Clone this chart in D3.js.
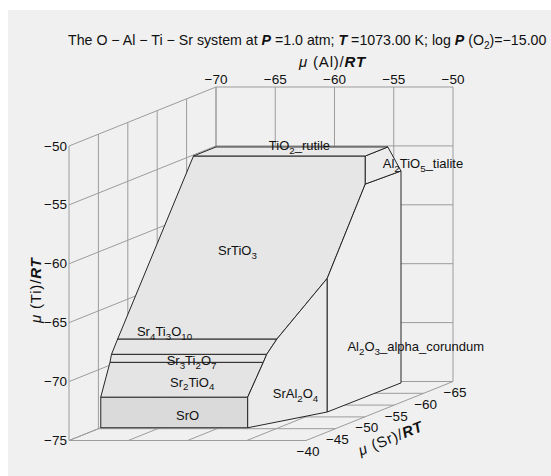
<!DOCTYPE html>
<html><head><meta charset="utf-8">
<script src="https://cdn.jsdelivr.net/npm/d3@7"></script>
<style>
body{margin:0;background:#fff}
svg{display:block}
text{font-family:"Liberation Sans",Arial,sans-serif;fill:#111}
</style>
</head><body>
<svg id="chart" width="551" height="476"></svg>
<script>
// ---------- data ----------
const alTicks = [-70, -65, -60, -55, -50];
const tiTicks = [-75, -70, -65, -60, -55, -50];
const srTicks = [-40, -45, -50, -55, -60, -65];

// polyhedron vertices in chemical-potential space: [mu(Al)/RT, mu(Sr)/RT, mu(Ti)/RT]
const vertexNames = ["A1","A2","A3","A4","B1","B2","C1","C2","D1","D2","P8","T1","T3","T4","T5","G1","G2","F1","E1"];
const vertexCoords = [
  [-70, -45.4, -75], [-57.6, -45.4, -75], [-57.6, -45.4, -72.4], [-70, -45.4, -72.4],
  [-70, -46.97, -69.76], [-57.06, -46.97, -69.76],
  [-70, -47.23, -69.13], [-56.9, -47.23, -69.13],
  [-70, -48.28, -68.04], [-56.56, -48.28, -68.04],
  [-70, -61.17, -55.09], [-70, -65, -55.09], [-55.5, -65, -55.09], [-55.5, -61.17, -55.09],
  [-55.5, -61.17, -57.47], [-54.09, -64.4, -57.01], [-54.09, -64.4, -75],
  [-54.2, -52.08, -75], [-54.2, -52.08, -63.65]
];

// phases (visible faces)
const phaseLabels = ["SrO", "Sr[2]TiO[4]", "Sr[3]Ti[2]O[7]", "Sr[4]Ti[3]O[10]", "SrTiO[3]",
  "SrAl[2]O[4]", "Al[2]O[3]_alpha_corundum", "Al[2]TiO[5]_tialite", "TiO[2]_rutile"];
const phaseFaces = [
  ["A1","A2","A3","A4"],
  ["A4","B1","B2","A3"],
  ["B1","C1","C2","B2"],
  ["C1","D1","D2","C2"],
  ["D1","P8","T4","T5","E1","D2"],
  ["A2","F1","E1","D2","C2","B2","A3"],
  ["F1","G2","G1","T5","E1"],
  ["T4","T3","G1","T5"],
  ["T1","T3","T4","P8"]
];
// label anchor points in the same space
const labelAnchors = [
  [-63.65, -45.4, -74.34], [-64.58, -46.25, -71.67], [-65.23, -47.0, -70.0], [-68.36, -48.25, -67.78],
  [-63.63, -52.5, -61.76], [-56.53, -47.5, -72.9], [-54.1, -55.3, -70.51], [-54.69, -62.5, -56.38],
  [-64.9, -63.7, -55.09]
];
const phaseFills = ["#dadada", "#e4e4e4", "#e6e6e6", "#e6e6e6", "#e6e6e6", "#ebebeb", "#eeeeee", "#ececec", "#e9e9e9"];

// ---------- projection ----------
const xAl = d3.scaleLinear().domain([-70, -50]).range([69, 306]);
const yTi = d3.scaleLinear().domain([-75, -50]).range([440.5, 146]);
const depth = d3.scaleLinear().domain([-40, -65]).range([0, 1]);
const DX = 147, DY = 59;
const proj = ([al, sr, ti]) => [xAl(al) + depth(sr) * DX, yTi(ti) - depth(sr) * DY];
const V = {};
vertexNames.forEach((n, i) => V[n] = vertexCoords[i]);

const svg = d3.select("#chart");
svg.append("rect").attr("x", 8).attr("y", 10).attr("width", 543).attr("height", 466).attr("fill", "#f0f0f0");

// ---------- walls / grid ----------
const grid = svg.append("g").attr("stroke", "#9c9c9c").attr("stroke-width", 1).attr("fill", "none");
const seg = (a, b) => grid.append("line")
  .attr("x1", proj(a)[0]).attr("y1", proj(a)[1]).attr("x2", proj(b)[0]).attr("y2", proj(b)[1]);
// left wall (Al = -70)
srTicks.forEach(sr => seg([-70, sr, -75], [-70, sr, -50]));
tiTicks.forEach(ti => seg([-70, -40, ti], [-70, -65, ti]));
// back wall (Sr = -65)
alTicks.forEach(al => seg([al, -65, -75], [al, -65, -50]));
tiTicks.forEach(ti => seg([-70, -65, ti], [-50, -65, ti]));
// floor (Ti = -75)
alTicks.forEach(al => seg([al, -40, -75], [al, -65, -75]));
srTicks.forEach(sr => seg([-70, sr, -75], [-50, sr, -75]));

// ---------- faces ----------
const line = d3.line();
svg.append("g").selectAll("path").data(phaseFaces).join("path")
  .attr("d", f => line(f.map(n => proj(V[n]))) + "Z")
  .attr("fill", (f, i) => phaseFills[i])
  .attr("stroke", "#262626").attr("stroke-width", 1).attr("stroke-linejoin", "round");

// ---------- rich text helper ----------
function rich(g, str, size) {
  const t = g.append("text").attr("font-size", size);
  let shifted = false;
  str.split(/(\[[^\]]*\])/).filter(s => s).forEach(p => {
    if (p[0] === "[") {
      t.append("tspan").attr("dy", shifted ? 0 : size * 0.3).attr("font-size", size * 0.75).text(p.slice(1, -1));
      shifted = true;
    } else {
      const ts = t.append("tspan").text(p);
      if (shifted) { ts.attr("dy", -size * 0.3); shifted = false; }
    }
  });
  return t;
}

// phase labels
const lg = svg.append("g");
phaseLabels.forEach((s, i) => {
  const [x, y] = proj(labelAnchors[i]);
  rich(lg, s, 13).attr("x", x).attr("y", y);
});

// ---------- axes ----------
const ax = svg.append("g").attr("font-size", 13.5);
alTicks.forEach(al => {
  const [x, y] = proj([al, -65, -50]);
  ax.append("text").attr("x", x).attr("y", y - 3.5).attr("text-anchor", "middle").text(String(al).replace("-", "\u2212"));
});
tiTicks.forEach(ti => {
  const [x, y] = proj([-70, -40, ti]);
  ax.append("text").attr("x", x - 2).attr("y", y + 4.5).attr("text-anchor", "end").text(String(ti).replace("-", "\u2212"));
});
srTicks.forEach(sr => {
  const [x, y] = proj([-50, sr, -75]);
  ax.append("text").attr("x", x + 2).attr("y", y + 15.5).attr("text-anchor", "middle").text(String(sr).replace("-", "\u2212"));
});

function muLabel(el, name) {
  el.attr("font-size", 15).attr("letter-spacing", 0.8).attr("text-anchor", "middle");
  el.append("tspan").attr("font-style", "italic").text("\u03bc");
  el.append("tspan").text(" (" + name + ")/");
  el.append("tspan").attr("font-weight", "bold").attr("font-style", "italic").text("RT");
}
// Al title
{
  const [x0] = proj([-70, -65, -50]); const [x1, y1] = proj([-50, -65, -50]);
  muLabel(svg.append("text").attr("x", (x0 + x1) / 2 - 2).attr("y", y1 - 20), "Al");
}
// Ti title
{
  const [x, ya] = proj([-70, -40, -50]); const [, yb] = proj([-70, -40, -75]);
  const cy = (ya + yb) / 2 - 3;
  muLabel(svg.append("text").attr("transform", `translate(${x - 28},${cy}) rotate(-90)`), "Ti");
}
// Sr title
{
  const [x, y] = proj([-50, -52.5, -75]);
  const ang = -Math.atan2(DY, DX) * 180 / Math.PI;
  muLabel(svg.append("text").attr("transform", `translate(${x + 13},${y + 32}) rotate(${ang})`), "Sr");
}

// ---------- title ----------
const title = svg.append("text").attr("x", 68).attr("y", 45).attr("font-size", 14.2);
const bi = s => title.append("tspan").attr("font-weight", "bold").attr("font-style", "italic").text(s);
const nm = s => title.append("tspan").text(s);
nm("The O \u2212 Al \u2212 Ti \u2212 Sr system at "); bi("P"); nm(" =1.0 atm; "); bi("T");
nm(" =1073.00 K; log "); bi("P"); nm(" (O");
title.append("tspan").attr("font-size", 10).attr("dy", 3.5).text("2");
title.append("tspan").attr("dy", -3.5).text(")=\u221215.00");
</script>
</body></html>
